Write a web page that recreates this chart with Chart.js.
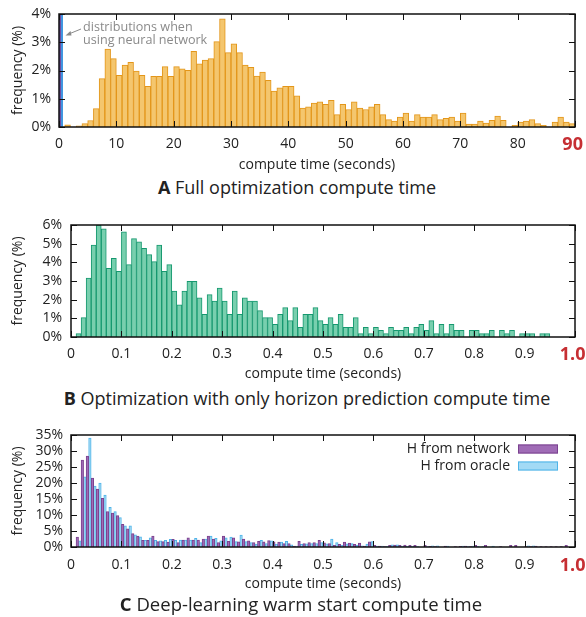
<!DOCTYPE html>
<html>
<head>
<meta charset="utf-8">
<script src="https://cdn.jsdelivr.net/npm/chart.js@4.4.1/dist/chart.umd.min.js"></script>
<style>
  body { margin: 0; width: 586px; height: 617px; background: #fff; position: relative; overflow: hidden;
         font-family: "Open Sans", sans-serif; color: #222; }
  .box { position: absolute; left: 0; width: 586px; }
  .title { position: absolute; left: 0; width: 586px; box-sizing: border-box; text-align: center;
           font-size: 18px; line-height: 22px; white-space: nowrap; }
  .title b { font-weight: 700; }
</style>
</head>
<body>
<div class="box" style="top:0;height:175px"><canvas id="chartA"></canvas></div>
<div class="title" style="top:176px;padding-left:8px"><b>A</b> Full optimization compute time</div>
<div class="box" style="top:205px;height:180px"><canvas id="chartB"></canvas></div>
<div class="title" style="top:387px;padding-left:28px"><b>B</b> Optimization with only horizon prediction compute time</div>
<div class="box" style="top:415px;height:180px"><canvas id="chartC"></canvas></div>
<div class="title" style="top:593px;padding-left:16px;font-size:18.5px"><b>C</b> Deep-learning warm start compute time</div>

<script>
Chart.defaults.font.family = '"Open Sans", sans-serif';
Chart.defaults.color = '#222';

// A: full optimization, 1 s bins, 0-90 s (frequency in %)
const valuesA = [
  0, 0.08, 0, 0.04, 0.12, 0.23, 0.65, 1.71, 2.76, 2.42,
  1.83, 2.19, 2.29, 1.98, 1.83, 1.44, 1.79, 1.79, 2.14, 1.79,
  2.14, 2.06, 2.01, 2.68, 2.24, 2.37, 2.42, 3.02, 3.83, 2.63,
  2.94, 2.63, 2.19, 2.11, 1.80, 1.94, 1.65, 1.27, 1.39, 1.44,
  1.44, 1.10, 0.67, 0.71, 0.85, 0.89, 0.80, 0.94, 0.44, 0.80,
  0.62, 0.89, 0.67, 0.62, 0.71, 0.80, 0.44, 0.26, 0.21, 0.35,
  0.49, 0.21, 0.44, 0.35, 0.35, 0.44, 0.26, 0.31, 0.35, 0.21,
  0.49, 0.10, 0.10, 0.21, 0.14, 0.24, 0.39, 0.24, 0, 0.06,
  0.17, 0.21, 0.26, 0.12, 0.06, 0, 0.17, 0.35, 0.17, 0.12
];
const binsA = valuesA.map((v, i) => i + 0.5);
// the network-based runs all fall in the first second (off scale)
const nnTimesA = [0.17, 0.52];
const nnFreqA = [100, 100];
const nnColors = ['#7048a0', '#3f95e0'];

// B: horizon prediction only, 0.01 s bins
const valuesB = [
  0, 0.18, 1.04, 3.16, 4.93, 6.0, 5.8, 3.68, 4.21, 3.52,
  5.64, 3.88, 5.27, 5.1, 4.75, 4.41, 4.04, 4.93, 3.52, 3.88,
  2.46, 1.73, 2.46, 2.98, 2.98, 2.1, 1.21, 2.27, 1.93, 2.62,
  1.93, 1.21, 2.46, 1.21, 2.1, 1.93, 1.93, 1.41, 1.04, 1.04,
  0.68, 1.21, 1.57, 0.88, 1.57, 0.52, 1.21, 1.21, 1.57, 0.88,
  0.68, 1.04, 0.68, 1.21, 0.52, 0.52, 1.04, 0.18, 0.52, 0.18,
  0.52, 0.36, 0.18, 0.52, 0.36, 0.36, 0.52, 0.18, 0.52, 0.68,
  0.36, 0.88, 0.18, 0.68, 0.18, 0.68, 0.36, 0.36, 0, 0.36,
  0.36, 0.18, 0.18, 0.36, 0, 0.36, 0.18, 0.36, 0, 0.18,
  0.18, 0.18, 0, 0.18, 0.18, 0, 0, 0, 0, 0
];
const binsB = valuesB.map((v, i) => (i + 0.5) / 100);

// C: deep-learning warm start, 0.01 s bins
const valuesCNet = [
  0, 3.1, 27.2, 28.4, 21.5, 18.1, 15.2, 11.1, 10.6, 9.8,
  7.1, 5.7, 4.2, 3.4, 2.1, 2.1, 3.4, 1.7, 1.7, 1.5,
  2.4, 1.4, 2.2, 2.9, 2.2, 2.2, 2.5, 3.4, 2.5, 1.4,
  3.4, 1.8, 2.9, 1.6, 2.5, 1.9, 1.4, 1.8, 1.6, 2.0,
  1.6, 1.5, 1.1, 1.1, 0.3, 1.8, 1.1, 1.4, 1.4, 2.1,
  1.3, 1.1, 0.5, 0.8, 1.5, 1.2, 0.8, 1.2, 0.3, 1.6,
  0.5, 0.3, 0.1, 0.5, 0.6, 0.5, 0.6, 0.5, 0.5, 0,
  0.5, 0.2, 0.1, 0, 0.3, 0, 0.1, 0.2, 0.3, 0.1,
  0.5, 0, 0.5, 0, 0, 0.1, 0, 0.5, 0.5, 0,
  0.1, 0.1, 0.3, 0.1, 0.1, 0.1, 0.1, 0.1, 0.5, 0
];
const valuesCOracle = [
  0, 1.9, 21.9, 34, 19, 20, 16.2, 12.4, 11.1, 9.2,
  6.6, 6.6, 3.8, 3.2, 2.1, 2.9, 2.1, 1.9, 2.1, 2.4,
  2.1, 2.2, 2.2, 2.2, 2.7, 1.4, 2.5, 3.4, 2.7, 1.9,
  2.9, 3.1, 1.7, 3.7, 1.7, 1.4, 0.9, 2.1, 1.1, 1.9,
  0.9, 1.5, 1.8, 0.7, 0.3, 0.8, 1.0, 1.1, 1.1, 1.4,
  1.0, 2.5, 1.4, 0.5, 1.0, 1.1, 0.6, 0.4, 0.9, 1.7,
  0.3, 0.3, 0.2, 0.7, 0.7, 0.3, 0.2, 0.2, 0.1, 0,
  0.1, 0.4, 0.4, 0, 0.3, 0, 0, 0.3, 0.1, 0.3,
  0.2, 0.1, 0, 0.3, 0, 0, 0, 0, 0, 0,
  0.4, 0.4, 0, 0, 0, 0, 0, 0, 0, 0
];
const binsC = valuesCNet.map((v, i) => (i + 0.5) / 100);
const seriesC = ['H from network', 'H from oracle'];

const noteLines = ['distributions when', 'using neural network'];

// frame + inward tick marks on all four sides (gnuplot look)
const framePlugin = {
  id: 'frame',
  afterDatasetsDraw(chart) {
    const { ctx, chartArea: a, scales: { x, y } } = chart;
    ctx.save();
    ctx.strokeStyle = '#111';
    ctx.lineWidth = 1;
    ctx.beginPath();
    x.ticks.forEach(t => {
      const px = Math.round(x.getPixelForValue(t.value)) + 0.5;
      ctx.moveTo(px, a.bottom); ctx.lineTo(px, a.bottom - 6);
      ctx.moveTo(px, a.top); ctx.lineTo(px, a.top + 6);
    });
    y.ticks.forEach(t => {
      const py = Math.round(y.getPixelForValue(t.value)) + 0.5;
      ctx.moveTo(a.left, py); ctx.lineTo(a.left + 6, py);
      ctx.moveTo(a.right, py); ctx.lineTo(a.right - 6, py);
    });
    ctx.stroke();
    ctx.lineWidth = 1.5;
    ctx.strokeRect(a.left, a.top, a.right - a.left, a.bottom - a.top);
    ctx.restore();
  }
};

// thin off-scale strips for the network runs (all under 1 s), clipped at the top
const nnStripPlugin = {
  id: 'nnStrip',
  beforeDatasetsDraw(chart) {
    const { ctx, chartArea: a, scales: { x, y } } = chart;
    ctx.save();
    nnTimesA.forEach((t, i) => {
      const px = x.getPixelForValue(t);
      const top = Math.max(y.getPixelForValue(nnFreqA[i]), a.top);
      ctx.fillStyle = nnColors[i];
      ctx.fillRect(px - 1, top, 2, y.getPixelForValue(0) - top);
    });
    ctx.restore();
  }
};

// grey note with arrow pointing at the off-scale network bars
const notePlugin = {
  id: 'note',
  afterDraw(chart) {
    const { ctx, chartArea: a } = chart;
    const x0 = chart.scales.x.getPixelForValue(0);
    ctx.save();
    ctx.fillStyle = '#8a8a8a';
    ctx.strokeStyle = '#8a8a8a';
    ctx.font = '12.6px "Open Sans", sans-serif';
    ctx.textBaseline = 'middle';
    ctx.fillText(noteLines[0], x0 + 24, a.top + 13.5);
    ctx.fillText(noteLines[1], x0 + 24, a.top + 26);
    ctx.lineWidth = 1;
    ctx.beginPath();
    ctx.moveTo(x0 + 22, a.top + 15);
    ctx.lineTo(x0 + 11, a.top + 19.5);
    ctx.stroke();
    ctx.beginPath();
    ctx.moveTo(x0 + 6.5, a.top + 21.5);
    ctx.lineTo(x0 + 11.5, a.top + 17);
    ctx.lineTo(x0 + 12.5, a.top + 21.5);
    ctx.closePath();
    ctx.fill();
    ctx.restore();
  }
};

// legend in the top right corner, text left of the swatch
const legendPlugin = {
  id: 'boxLegend',
  afterDraw(chart) {
    const { ctx, chartArea: a } = chart;
    ctx.save();
    ctx.font = '14px "Open Sans", sans-serif';
    ctx.textAlign = 'right';
    ctx.textBaseline = 'middle';
    chart.data.datasets.forEach((ds, i) => {
      const yy = a.top + 14 + i * 17;
      ctx.fillStyle = '#222';
      ctx.fillText(ds.label, a.right - 65, yy);
      ctx.fillStyle = ds.backgroundColor;
      ctx.strokeStyle = ds.borderColor;
      ctx.lineWidth = 1;
      ctx.fillRect(a.right - 57, yy - 4.5, 40, 9);
      ctx.strokeRect(a.right - 56.5, yy - 4, 39, 8);
    });
    ctx.restore();
  }
};

function histOptions(cfg) {
  const isLast = c => c.tick && Math.abs(c.tick.value - cfg.xMax) < 1e-9;
  const fmt = v => v === 0 ? '0' : (cfg.xStep < 1 ? v.toFixed(1) : String(v));
  return {
    responsive: true,
    maintainAspectRatio: false,
    animation: false,
    layout: { padding: { top: cfg.padTop, right: 11, left: 0, bottom: 0 } },
    plugins: { legend: { display: false }, tooltip: { enabled: false } },
    datasets: { bar: { categoryPercentage: 1, barPercentage: 1, borderWidth: 1, clip: 0 } },
    scales: {
      x: {
        type: 'linear', min: 0, max: cfg.xMax, offset: false,
        grid: { display: false, drawTicks: false }, border: { display: false },
        ticks: {
          stepSize: cfg.xStep, autoSkip: false, maxRotation: 0, padding: cfg.tickPad,
          color: c => isLast(c) ? '#c62f33' : '#222',
          font: c => isLast(c) ? { size: 18, weight: 'bold', lineHeight: 0.94 } : { size: 14 },
          // trailing space nudges the bold end label left so it stays on the page
          callback: v => Math.abs(v - cfg.xMax) < 1e-9 ? fmt(v) + ' ' : fmt(v)
        },
        title: { display: true, text: 'compute time (seconds)', font: { size: 14 }, color: '#222',
                 padding: { top: 0, bottom: cfg.titlePad } },
        afterFit: s => { s.height = cfg.xHeight; s.paddingLeft = 0; s.paddingRight = 0; }
      },
      y: {
        min: 0, max: cfg.yMax,
        grid: { display: false, drawTicks: false }, border: { display: false },
        ticks: { stepSize: cfg.yStep, autoSkip: false, padding: cfg.yPad, font: { size: 14 }, color: '#222',
                 callback: v => v + '%' },
        title: { display: true, text: 'frequency (%)', font: { size: 14 }, color: '#222',
                 padding: { top: 10, bottom: 0 } },
        afterFit: s => { s.width = cfg.yWidth; s.paddingTop = 0; s.paddingBottom = 0; }
      }
    }
  };
}

// Chart A
new Chart(document.getElementById('chartA'), {
  type: 'bar',
  data: {
    labels: binsA,
    datasets: [
      { label: 'full optimization', data: valuesA, backgroundColor: '#f4c66e', borderColor: '#e3961a' }
    ]
  },
  options: histOptions({ xMax: 90, xStep: 10, yMax: 4, yStep: 1, yWidth: 59, yPad: 8, padTop: 14,
                         xHeight: 48, tickPad: 9, titlePad: 2 }),
  plugins: [nnStripPlugin, framePlugin, notePlugin]
});

// Chart B
new Chart(document.getElementById('chartB'), {
  type: 'bar',
  data: {
    labels: binsB,
    datasets: [
      { label: 'horizon prediction', data: valuesB, backgroundColor: '#78cfae', borderColor: '#16986f' }
    ]
  },
  options: histOptions({ xMax: 1, xStep: 0.1, yMax: 6, yStep: 1, yWidth: 71, yPad: 9, padTop: 20,
                         xHeight: 48, tickPad: 9, titlePad: 3 }),
  plugins: [framePlugin]
});

// Chart C
new Chart(document.getElementById('chartC'), {
  type: 'bar',
  data: {
    labels: binsC,
    datasets: [
      { label: seriesC[0], data: valuesCNet, backgroundColor: '#a06cb6', borderColor: '#7a428f' },
      { label: seriesC[1], data: valuesCOracle, backgroundColor: '#a3daf5', borderColor: '#4fb4e8' }
    ]
  },
  options: histOptions({ xMax: 1, xStep: 0.1, yMax: 35, yStep: 5, yWidth: 71, yPad: 8, padTop: 20,
                         xHeight: 48, tickPad: 10, titlePad: 3 }),
  plugins: [framePlugin, legendPlugin]
});
</script>
</body>
</html>
